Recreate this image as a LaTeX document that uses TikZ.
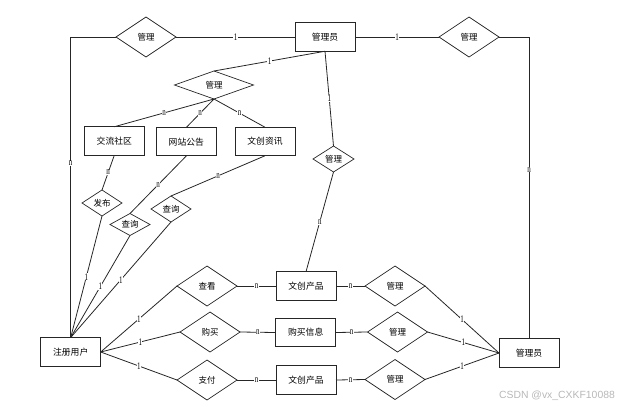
\documentclass[tikz,border=0pt]{standalone}
\usepackage{fontspec}
\newfontfamily\cjk{Noto Sans CJK SC}
\newfontfamily\wmfont{Liberation Sans}
\newfontfamily\labfont{Liberation Serif}
\usetikzlibrary{shapes.geometric}
\newcommand{\lbtxt}[1]{\scalebox{0.7}[1]{#1}}
\begin{document}
\begin{tikzpicture}[x=1pt,y=-1pt,
  ent/.style={draw=black!85, line width=1pt, minimum width=60pt, minimum height=28.5pt, inner sep=0pt, outer sep=0pt, font=\cjk\fontsize{8.8}{10}\selectfont},
  rel/.style={draw=black!85, diamond, line width=0.7pt, inner sep=0pt, outer sep=0pt, font=\cjk\fontsize{8.5}{10}\selectfont},
  lnk/.style={draw=black!85, line width=0.8pt},
  lab/.style={fill=white, inner sep=0.3pt, font=\labfont\fontsize{10}{10}\selectfont}]
\useasboundingbox (0,0) rectangle (624,407);
% entities
\node[ent] (adm1) at (325,37) {管理员};
\node[ent] (box1) at (114.3,141) {交流社区};
\node[ent] (box2) at (186.3,141.7) {网站公告};
\node[ent] (box3) at (265,141.5) {文创资讯};
\node[ent, minimum height=29pt] (user) at (70.7,352) {注册用户};
\node[ent] (prod1) at (306,286) {文创产品};
\node[ent] (info) at (305.7,332.5) {购买信息};
\node[ent] (prod2) at (306,380) {文创产品};
\node[ent] (adm2) at (529,353) {管理员};
% relations
\node[rel, minimum width=60pt, minimum height=40pt] (d1) at (146,37) {\makebox[0pt]{管理}};
\node[rel, minimum width=60pt, minimum height=40pt] (d2) at (469,37) {\makebox[0pt]{管理}};
\node[rel, minimum width=79pt, minimum height=28pt] (dm) at (214,85) {\makebox[0pt]{管理}};
\node[rel, minimum width=41pt, minimum height=26pt] (ds) at (333.5,159) {\makebox[0pt]{管理}};
\node[rel, minimum width=40pt, minimum height=26pt] (fb) at (102,203) {\makebox[0pt]{发布}};
\node[rel, minimum width=40pt, minimum height=22pt] (cx1) at (130,224.5) {\makebox[0pt]{查询}};
\node[rel, minimum width=40pt, minimum height=26pt] (cx2) at (171,209) {\makebox[0pt]{查询}};
\node[rel, minimum width=60pt, minimum height=40pt] (ck) at (207,286) {\makebox[0pt]{查看}};
\node[rel, minimum width=60pt, minimum height=40pt] (gm) at (210,332) {\makebox[0pt]{购买}};
\node[rel, minimum width=60pt, minimum height=40pt] (zf) at (207,380) {\makebox[0pt]{支付}};
\node[rel, minimum width=60pt, minimum height=40pt] (g1) at (395,286) {\makebox[0pt]{管理}};
\node[rel, minimum width=60pt, minimum height=40pt] (g2) at (397.5,332) {\makebox[0pt]{管理}};
\node[rel, minimum width=60pt, minimum height=40pt] (g3) at (395,379.5) {\makebox[0pt]{管理}};
% connectors
\path[lnk] (d1.east) -- node[lab]{\lbtxt{1}} (adm1.west);
\path[lnk] (adm1.east) -- node[lab]{\lbtxt{1}} (d2.west);
\path[lnk] (d1.west) -| node[lab, pos=0.71]{\lbtxt{n}} (user.north);
\path[lnk] (d2.east) -| node[lab, pos=0.72]{\lbtxt{n}} (adm2.north);
\path[lnk] (adm1.south) -- node[lab]{\lbtxt{1}} (dm.north);
\path[lnk] (adm1.south) -- node[lab]{\lbtxt{1}} (ds.north);
\path[lnk] (ds.south) -- node[lab]{\lbtxt{n}} (prod1.north);
\path[lnk] (dm.south) -- node[lab]{\lbtxt{n}} (box1.north);
\path[lnk] (dm.south) -- node[lab]{\lbtxt{n}} (box2.north);
\path[lnk] (dm.south) -- node[lab]{\lbtxt{n}} (box3.north);
\path[lnk] (box1.south) -- node[lab]{\lbtxt{n}} (fb.north);
\path[lnk] (fb.south) -- node[lab]{\lbtxt{1}} (user.north);
\path[lnk] (box2.south) -- node[lab]{\lbtxt{n}} (cx1.north);
\path[lnk] (cx1.south) -- node[lab]{\lbtxt{1}} (user.north);
\path[lnk] (box3.south) -- node[lab]{\lbtxt{n}} (cx2.north);
\path[lnk] (cx2.south) -- node[lab]{\lbtxt{1}} (user.north);
\path[lnk] (user.east) -- node[lab]{\lbtxt{1}} (ck.west);
\path[lnk] (user.east) -- node[lab]{\lbtxt{1}} (gm.west);
\path[lnk] (user.east) -- node[lab]{\lbtxt{1}} (zf.west);
\path[lnk] (ck.east) -- node[lab]{\lbtxt{n}} (prod1.west);
\path[lnk] (gm.east) -- node[lab]{\lbtxt{n}} (info.west);
\path[lnk] (zf.east) -- node[lab]{\lbtxt{n}} (prod2.west);
\path[lnk] (prod1.east) -- node[lab]{\lbtxt{n}} (g1.west);
\path[lnk] (info.east) -- node[lab]{\lbtxt{n}} (g2.west);
\path[lnk] (prod2.east) -- node[lab]{\lbtxt{n}} (g3.west);
\path[lnk] (g1.east) -- node[lab]{\lbtxt{1}} (adm2.west);
\path[lnk] (g2.east) -- node[lab]{\lbtxt{1}} (adm2.west);
\path[lnk] (g3.east) -- node[lab]{\lbtxt{1}} (adm2.west);
% watermark
\node[font=\wmfont\fontsize{10.4}{12}\selectfont, text=black!28, inner sep=0pt] (wm) at (557,396) {CSDN @vx\_CXKF10088};
\end{tikzpicture}
\end{document}
